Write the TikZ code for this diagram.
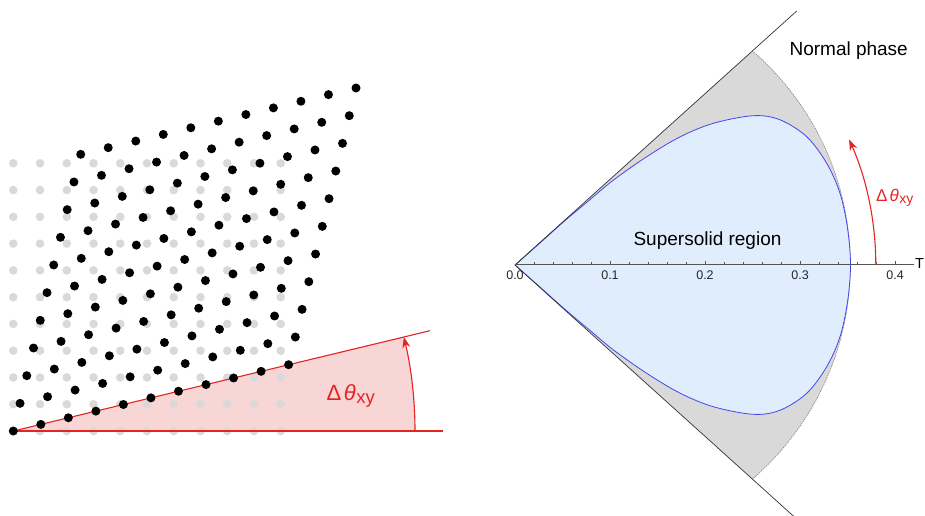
\documentclass[tikz,border=0pt]{standalone}
\usepackage{fontspec}
\setmainfont{Liberation Sans}
\usetikzlibrary{arrows.meta}
\definecolor{myred}{RGB}{228,35,35}
\definecolor{pinkfill}{RGB}{249,214,214}
\definecolor{dotgray}{RGB}{217,217,217}
\definecolor{regiongray}{RGB}{217,217,217}
\definecolor{bluefill}{RGB}{224,237,253}
\definecolor{blueline}{RGB}{70,70,235}
\definecolor{axisgray}{RGB}{85,85,85}
\begin{document}
\begin{tikzpicture}[x=1pt,y=-1pt,
  redline/.style={draw=myred,line width=1.1pt},
  redarrow/.style={redline,-{Stealth[length=11pt,width=8pt]}},
  graydot/.style={fill=dotgray},
  blackdot/.style={fill=black},
  wedgeline/.style={draw=black!80,line width=0.7pt},
  ticklabel/.style={font=\fontsize{12.5}{13}\selectfont,text=black!85,inner sep=0pt},
  biglabel/.style={font=\fontsize{19}{22}\selectfont,inner sep=0pt}]
\useasboundingbox (0,0) rectangle (925,515);
% ---------- left panel ----------
\coordinate (O) at (13.3,431);
\fill[pinkfill] (O) -- (415,431) arc[start angle=0,end angle=-13.54,radius=401.7] -- cycle;
\foreach \i in {0,...,10}{
  \foreach \j in {0,...,10}{
    \fill[graydot] (13.3+26.74*\i,431-26.77*\j) circle (4.3);
  }
}
\coordinate (H) at (442.7,431);
\coordinate (S) at (430,330.7);
\coordinate (A0) at (415,431);
\draw[redline] (O) -- (H);
\draw[redline] (O) -- (S);
\draw[redarrow] (A0) arc[start angle=0,end angle=-13.54,radius=401.7];
\foreach \i in {0,...,10}{
  \foreach \j in {0,...,10}{
    \fill[blackdot] (13.3+27.53*\i+6.74*\j,431-6.63*\i-27.67*\j) circle (4.5);
  }
}
\node[anchor=base west,inner sep=0pt,text=myred,font=\fontsize{22}{24}\selectfont] (L1) at (326.5,400.5)
  {Δ\hspace{2.5pt}{\itshape θ}\hspace{0.5pt}\raisebox{-3pt}{\fontsize{18.5}{19}\selectfont xy}};
% ---------- right panel ----------
\coordinate (P) at (515,265);
\begin{scope}
  \clip (P) -- (950,-127) -- (950,657) -- cycle;
  \fill[regiongray] (567.3,265) circle (283);
  \draw[gray,line width=0.6pt,dash pattern=on 1.5pt off 1pt] (567.3,265) circle (283);
\end{scope}
\filldraw[fill=bluefill,draw=blueline,line width=0.8pt]
  plot[smooth,tension=0.55] coordinates {
  (515,265) (540,242.9) (565,220.6) (590,199.6) (613.3,180.2) (646.7,156.7)
  (680,136.9) (713.3,123.3) (753.3,115.7) (780,119.8) (806.7,136.7) (826.7,163.3)
  (840,193.3) (847.5,228) (850.5,265)
  (847.5,302) (840,336.7) (826.7,366.7) (806.7,393.3) (780,410.2) (753.3,414.3)
  (713.3,406.7) (680,393.1) (646.7,373.3) (613.3,349.8) (590,330.4) (565,309.4)
  (540,287.1) (515,265)} -- cycle;
\coordinate (Ltop) at (796.7,11);
\coordinate (Lbot) at (800,522);
\draw[wedgeline] (P) -- (Ltop);
\draw[wedgeline] (P) -- (Lbot);
\coordinate (Aend) at (913.5,264.5);
\draw[axisgray,line width=0.7pt] (515,264.5) -- (Aend);
\foreach \k in {1,...,20}{
  \draw[axisgray,line width=0.6pt] (515+19*\k,264.5) -- ++(0,-2.5);
}
\foreach \k in {1,...,4}{
  \draw[axisgray,line width=0.6pt] (515+95*\k,264.5) -- ++(0,-4);
}
\foreach \k/\t in {0/0.0,1/0.1,2/0.2,3/0.3,4/0.4}{
  \node[ticklabel,anchor=base] at (515+95*\k,279) {\t};
}
\node[anchor=west,inner sep=0pt,font=\fontsize{14.5}{16}\selectfont] (Tl) at (915,263.5) {T};
\node[biglabel,anchor=base] (SS) at (707.5,245.5) {Supersolid region};
\node[biglabel,anchor=base] (NP) at (848.7,55) {Normal phase};
\coordinate (B0) at (875.8,265);
\draw[redarrow] (B0) arc[start angle=0,end angle=-24,radius=308.5];
\node[anchor=base west,inner sep=0pt,text=myred,font=\fontsize{17}{19}\selectfont] (L2) at (876,201.7)
  {Δ\hspace{2pt}{\itshape θ}\hspace{0.5pt}\raisebox{-2.2pt}{\fontsize{14}{15}\selectfont xy}};
\end{tikzpicture}
\end{document}
